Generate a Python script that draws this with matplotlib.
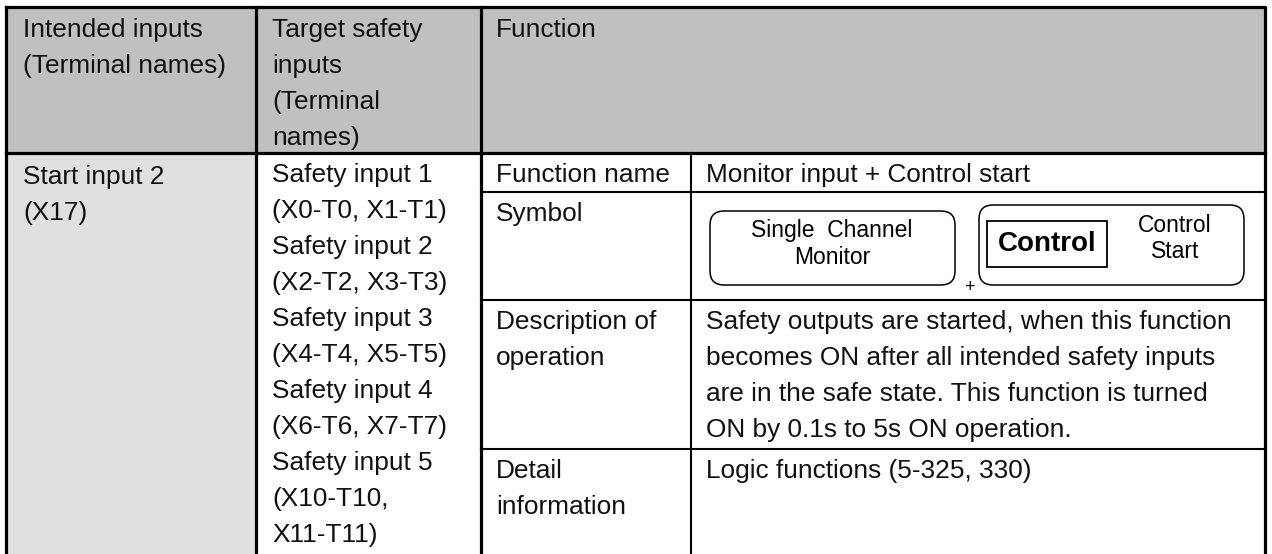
import matplotlib
matplotlib.use("Agg")
import matplotlib.pyplot as plt
from matplotlib.patches import Rectangle, FancyBboxPatch
from matplotlib import font_manager

# table text
header_col1 = ["Intended inputs", "(Terminal names)"]
header_col2 = ["Target safety", "inputs", "(Terminal", "names)"]
header_col3 = ["Function"]
intended_inputs = ["Start input 2", "(X17)"]
target_inputs = ["Safety input 1", "(X0-T0, X1-T1)",
                 "Safety input 2", "(X2-T2, X3-T3)",
                 "Safety input 3", "(X4-T4, X5-T5)",
                 "Safety input 4", "(X6-T6, X7-T7)",
                 "Safety input 5", "(X10-T10,", "X11-T11)"]
field_names = [["Function name"], ["Symbol"], ["Description of", "operation"],
               ["Detail", "information"]]
field_values = [["Monitor input + Control start"],
                [],
                ["Safety outputs are started, when this function",
                 "becomes ON after all intended safety inputs",
                 "are in the safe state. This function is turned",
                 "ON by 0.1s to 5s ON operation."],
                ["Logic functions (5-325, 330)"]]
symbol_monitor = ["Single  Channel", "Monitor"]
symbol_control = "Control"
symbol_start = ["Control", "Start"]

# layout (pixels)
W, H = 1272, 554
left, top, right, bottom = 6, 7, 1265, 556
col_x = [256, 481]
sub_x = 691
head_bot = 153
row_y = [head_bot, 192, 300, 449, bottom]
LS = 36
FS = 18.9

fig = plt.figure(figsize=(W / 100, H / 100), dpi=100)
ax = fig.add_axes([0, 0, 1, 1])
ax.set_xlim(0, W)
ax.set_ylim(H, 0)
ax.axis("off")

font = "Liberation Sans"
names = {f.name for f in font_manager.fontManager.ttflist}
if "Liberation Sans Narrow" in names:
    narrow, nfs = "Liberation Sans Narrow", 20
else:
    narrow, nfs = "Liberation Sans", 16.5

# fills
ax.add_patch(Rectangle((left, top), right - left, head_bot - top, color="#c0c0c0", lw=0))
ax.add_patch(Rectangle((left, head_bot), col_x[0] - left, bottom - head_bot, color="#e0e0e0", lw=0))

thick = 2.3
thin = 1.5
# outer border and main lines
ax.plot([left, right, right, left, left], [top, top, bottom, bottom, top], color="black", lw=thick)
ax.plot([left, right], [head_bot, head_bot], color="black", lw=thick)
for x in col_x:
    ax.plot([x, x], [top, bottom], color="black", lw=thick)
# sub lines in the function column
for y in row_y[1:-1]:
    ax.plot([col_x[1], right], [y, y], color="black", lw=thin)
ax.plot([sub_x, sub_x], [head_bot, bottom], color="black", lw=thin)


def put(x, y0, lines, **kw):
    for i, s in enumerate(lines):
        ax.text(x, y0 + i * LS + 9, s, ha="left", va="baseline",
                fontsize=FS, family=[font, "DejaVu Sans"], color="#111111", **kw)


put(23, 28, header_col1)
put(272, 28, header_col2)
put(496, 28, header_col3)
put(23, 175, intended_inputs)
put(272, 173, target_inputs)
for i, (nm, val) in enumerate(zip(field_names, field_values)):
    put(496, row_y[i] + 20, nm)
    put(706, row_y[i] + 20, val)

# symbol drawing
ax.add_patch(FancyBboxPatch((710, 211), 245, 74, boxstyle="round,pad=0,rounding_size=14",
                            fc="white", ec="black", lw=1.1))
ax.add_patch(FancyBboxPatch((979, 205), 265, 80, boxstyle="round,pad=0,rounding_size=14",
                            fc="white", ec="black", lw=1.1))
ax.add_patch(Rectangle((987, 221), 120, 46, fc="white", ec="black", lw=1.3))
for i, s in enumerate(symbol_monitor):
    ax.text(832, 231 + i * 26, s, ha="center", va="center", fontsize=nfs, family=narrow)
ax.text(1047, 244, symbol_control, ha="center", va="center", fontsize=20,
        family=font, fontweight="bold")
for i, s in enumerate(symbol_start):
    ax.text(1175, 225 + i * 27, s, ha="center", va="center", fontsize=nfs, family=narrow)
ax.text(969, 288, "+", ha="center", va="center", fontsize=13, family=font)

fig.savefig("out.png", dpi=100)
